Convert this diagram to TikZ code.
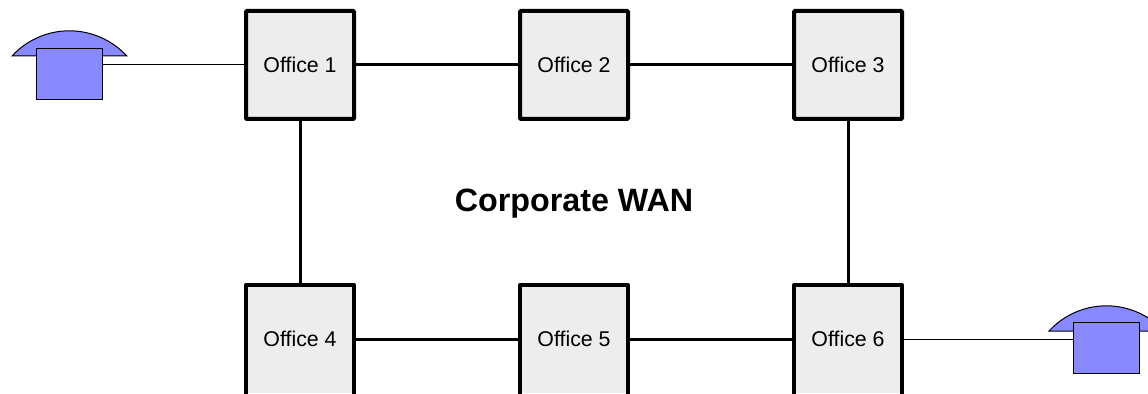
\documentclass[tikz,border=0pt]{standalone}
\usepackage{fontspec}
\setmainfont{Liberation Sans}
\usetikzlibrary{positioning,calc}

\begin{document}
\begin{tikzpicture}[x=0.75pt, y=0.75pt, node distance=124.5pt,
		OfficeStyle/.style = {shape=rectangle, draw, rounded corners=0.8pt, line width=3pt, fill=black!7, minimum size=81pt, inner sep=0pt, outer sep=0pt, font=\fontsize{16pt}{18pt}\selectfont},
		CutOfficeStyle/.style = {OfficeStyle, draw=none, rounded corners=0pt},
		PhoneStyle/.style = {shape=rectangle, draw, line width=0.75pt, fill=phoneblue, minimum width=49.5pt, minimum height=38.25pt, inner sep=0pt},
		DomeStyle/.style = {draw, line width=0.75pt, fill=phoneblue},
		TrunkStyle/.style = {line width=2.25pt},
		TailStyle/.style = {line width=0.75pt},
		EdgeStyle/.style = {line width=3pt, line join=round}]
	\definecolor{phoneblue}{HTML}{8888FF}
	\useasboundingbox (0,0) rectangle (1148,393);

	% handsets go under the phone bodies
	\coordinate (dome1) at (69.5,337);
	\coordinate (dome2) at (1106.5,62);
	\draw[DomeStyle] (dome1) ++(-57.5,0) arc[start angle=137.4, end angle=42.6, radius=58.5pt] -- cycle;
	\draw[DomeStyle] (dome2) ++(-57.5,0) arc[start angle=137.4, end angle=42.6, radius=58.5pt] -- cycle;

	\node[PhoneStyle] (phone1) at (69,319.2) {};
	\node[PhoneStyle] (phone2) at (1106.5,45) {};

	\node[OfficeStyle] (office1) at (300,328) {Office 1};
	\node[OfficeStyle, right=of office1] (office2) {Office 2};
	\node[OfficeStyle, right=of office2] (office3) {Office 3};
	\node[CutOfficeStyle, below=of office1] (office4) {Office 4};
	\node[CutOfficeStyle, right=of office4] (office5) {Office 5};
	\node[CutOfficeStyle, right=of office5] (office6) {Office 6};

	% bottom row runs off the page, no bottom edge
	\foreach \n in {office4,office5,office6}
		\draw[EdgeStyle] ([yshift=-3pt]\n.south west) -- (\n.north west) -- (\n.north east) -- ([yshift=-3pt]\n.south east);

	\node[font=\fontsize{24.2pt}{30pt}\selectfont\bfseries, yshift=-1.2pt] (wan) at ($(office2)!0.5!(office5)$) {Corporate WAN};

	\path[TrunkStyle, draw]
		(office1) -- (office2)
		(office2) -- (office3)
		(office4) -- (office5)
		(office5) -- (office6)
		(office1) -- (office4)
		(office3) -- (office6)
	;
	\draw[TailStyle] (office1.west) -- (office1.west -| phone1.east);
	\draw[TailStyle] (office6.east) -- (office6.east -| phone2.west);
\end{tikzpicture}
\end{document}
